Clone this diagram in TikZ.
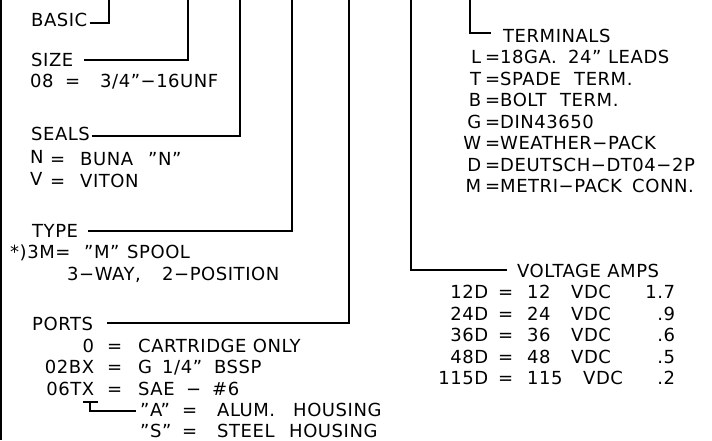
\documentclass[tikz,border=0pt]{standalone}
\usepackage{fontspec}
\setmainfont{DejaVu Sans}[LetterSpace=3]
\begin{document}
\begin{tikzpicture}[x=1pt,y=1pt,
  txt/.style={anchor=base west, inner sep=0pt, font=\fontsize{18}{18}\selectfont},
  wire/.style={line width=1.6pt}]
\useasboundingbox (0,0) rectangle (712,-440);

% ---------- left column ----------
\node[txt] (basic) at (31,-26) {BASIC};
\node[txt] (size) at (31,-66) {SIZE};
\node[txt] (sizeval) at (30,-87) {\makebox[35pt][l]{08}\makebox[35pt][l]{=}3/4"−16UNF};
\node[txt] (seals) at (31,-140) {SEALS};
\node[txt] (sealN) at (30,-165) {\makebox[20pt][l]{\raisebox{2pt}{N}}\makebox[30pt][l]{=}\makebox[68pt][l]{BUNA}"N"};
\node[txt] (sealV) at (30,-187) {\makebox[20pt][l]{\raisebox{2pt}{V}}\makebox[30pt][l]{=}VITON};
\node[txt] (type) at (32,-237) {TYPE};
\node[txt] (type3m) at (10,-258) {\makebox[74pt][l]{*)3M=}\makebox[43pt][l]{"M"}SPOOL};
\node[txt] (type3way) at (67,-280) {\makebox[95pt][l]{3−WAY,}2−POSITION};
\node[txt] (ports) at (32,-330) {PORTS};
\node[txt] (port0) at (43,-352) {\makebox[51pt][r]{0}\hspace{13pt}\makebox[31pt][l]{=}CARTRIDGE ONLY};
\node[txt] (port02) at (43,-373.5) {\makebox[51pt][r]{02BX}\hspace{13pt}\makebox[31pt][l]{=}\makebox[24pt][l]{G}\makebox[52pt][l]{1/4"}BSSP};
\node[txt] (port06) at (43,-395) {\makebox[51pt][r]{06TX}\hspace{13pt}\makebox[31pt][l]{=}\makebox[48pt][l]{SAE}\makebox[26pt][l]{−}\#6};
\node[txt] (housA) at (140,-416) {\makebox[42pt][l]{"A"}\makebox[35pt][l]{=}\makebox[76pt][l]{ALUM.}HOUSING};
\node[txt] (housS) at (140,-437) {\makebox[42pt][l]{"S"}\makebox[35pt][l]{=}\makebox[72pt][l]{STEEL}HOUSING};

% ---------- right column ----------
\node[txt] (term) at (503,-42) {TERMINALS};
\node[txt] (termL) at (455,-63) {\makebox[26pt][r]{L}\hspace{4pt}\makebox[15pt][l]{=}\makebox[68pt][l]{18GA.}\makebox[40pt][l]{24"}LEADS};
\node[txt] (termT) at (455,-85) {\makebox[26pt][r]{T}\hspace{4pt}\makebox[15pt][l]{=}\makebox[74pt][l]{SPADE}TERM.};
\node[txt] (termB) at (455,-106.5) {\makebox[26pt][r]{B}\hspace{4pt}\makebox[15pt][l]{=}\makebox[60pt][l]{BOLT}TERM.};
\node[txt] (termG) at (455,-128) {\makebox[26pt][r]{G}\hspace{4pt}\makebox[15pt][l]{=}DIN43650};
\node[txt] (termW) at (455,-149.5) {\makebox[26pt][r]{W}\hspace{4pt}\makebox[15pt][l]{=}WEATHER−PACK};
\node[txt] (termD) at (455,-171) {\makebox[26pt][r]{D}\hspace{4pt}\makebox[15pt][l]{=}DEUTSCH−DT04−2P};
\node[txt] (termM) at (455,-192.5) {\makebox[26pt][r]{M}\hspace{4pt}\makebox[15pt][l]{=}\makebox[132pt][l]{METRI−PACK}CONN.};

\node[txt] (volt) at (517,-277) {VOLTAGE AMPS};
\node[txt] (v12) at (430,-298.5) {\makebox[58pt][r]{12D}\hspace{10pt}\makebox[29pt][l]{=}\makebox[148pt][l]{\makebox[44pt][l]{12}VDC}\makebox[0pt][r]{1.7}};
\node[txt] (v24) at (430,-320) {\makebox[58pt][r]{24D}\hspace{10pt}\makebox[29pt][l]{=}\makebox[148pt][l]{\makebox[44pt][l]{24}VDC}\makebox[0pt][r]{.9}};
\node[txt] (v36) at (430,-341.5) {\makebox[58pt][r]{36D}\hspace{10pt}\makebox[29pt][l]{=}\makebox[148pt][l]{\makebox[44pt][l]{36}VDC}\makebox[0pt][r]{.6}};
\node[txt] (v48) at (430,-363) {\makebox[58pt][r]{48D}\hspace{10pt}\makebox[29pt][l]{=}\makebox[148pt][l]{\makebox[44pt][l]{48}VDC}\makebox[0pt][r]{.5}};
\node[txt] (v115) at (430,-384.5) {\makebox[58pt][r]{115D}\hspace{10pt}\makebox[29pt][l]{=}\makebox[148pt][l]{\makebox[56pt][l]{115}VDC}\makebox[0pt][r]{.2}};

% ---------- leader ends at top edge ----------
\coordinate (borderTop) at (1,0);
\coordinate (borderBot) at (1,-440);
\coordinate (basicTop) at (109,0);
\coordinate (sizeTop) at (188,0);
\coordinate (sealsTop) at (240,0);
\coordinate (typeTop) at (292,0);
\coordinate (portsTop) at (349,0);
\coordinate (voltTop) at (411,0);
\coordinate (termTop) at (470,0);
\coordinate (xLeft) at (83,-402);
\coordinate (xRight) at (98,-402);
\coordinate (xMid) at (90,-402);

% ---------- connectors ----------
\draw[wire] (borderTop) -- (borderBot);
\draw[wire] ([xshift=2pt,yshift=3pt]basic.base east) -| (basicTop);
\draw[wire] ([xshift=11pt,yshift=6pt]size.base east) -| (sizeTop);
\draw[wire] ([xshift=1.5pt,yshift=4pt]seals.base east) -| (sealsTop);
\draw[wire] ([xshift=10pt,yshift=6pt]type.base east) -| (typeTop);
\draw[wire] ([xshift=14pt,yshift=7pt]ports.base east) -| (portsTop);
\draw[wire] ([xshift=-10pt,yshift=7pt]volt.base west) -| (voltTop);
\draw[wire] ([xshift=-12pt,yshift=9pt]term.base west) -| (termTop);
\draw[wire] (xLeft) -- (xRight);
\draw[wire] (xMid) |- ([xshift=-4pt,yshift=5pt]housA.base west);
\end{tikzpicture}
\end{document}
